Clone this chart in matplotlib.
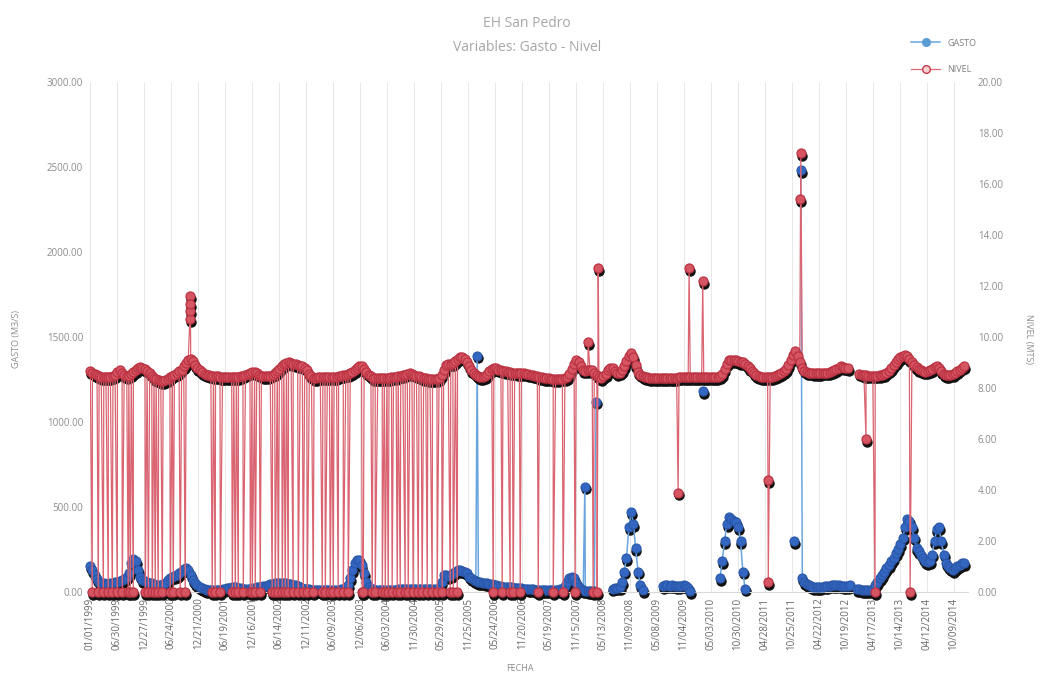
import numpy as np
import pandas as pd
import matplotlib
matplotlib.use('Agg')
import matplotlib.pyplot as plt
import matplotlib.transforms as mtransforms
from matplotlib.lines import Line2D

plt.rcParams['font.family'] = ['Open Sans', 'DejaVu Sans']

nan = np.nan
inicio = '1999-01-01'

# NIVEL (mts): lecturas quincenales (dias 1 y 15 de cada mes)
nivel_1999 = [8.65, 8.60, 8.55, 8.50, 8.46, 8.44, 8.43, 8.42, 8.42, 8.43, 8.45, 8.50, 8.62, 8.70, 8.60, 8.50, 8.45, 8.48, 8.55, 8.62, 8.70, 8.78, 8.82, 8.80]
nivel_2000 = [8.75, 8.68, 8.58, 8.48, 8.40, 8.35, 8.30, 8.28, 8.28, 8.30, 8.35, 8.42, 8.48, 8.52, 8.58, 8.65, 8.72, 8.85, 8.98, 9.10, 9.15, 9.05, 8.90, 8.78]
nivel_2001 = [8.70, 8.62, 8.56, 8.52, 8.50, 8.48, 8.46, 8.45, 8.45, 8.44, 8.44, 8.43, 8.43, 8.42, 8.42, 8.42, 8.42, 8.43, 8.45, 8.48, 8.52, 8.56, 8.60, 8.64]
nivel_2002 = [8.62, 8.58, 8.52, 8.48, 8.45, 8.45, 8.46, 8.48, 8.52, 8.58, 8.66, 8.75, 8.85, 8.92, 8.98, 9.00, 8.98, 8.95, 8.92, 8.90, 8.88, 8.85, 8.80, 8.70]
nivel_2003 = [8.55, 8.45, 8.40, 8.40, 8.42, 8.42, 8.42, 8.42, 8.42, 8.42, 8.42, 8.43, 8.44, 8.45, 8.48, 8.50, 8.52, 8.55, 8.58, 8.62, 8.70, 8.80, 8.88, 8.85]
nivel_2004 = [8.75, 8.62, 8.52, 8.45, 8.40, 8.40, 8.40, 8.40, 8.40, 8.40, 8.40, 8.40, 8.42, 8.42, 8.44, 8.46, 8.48, 8.50, 8.52, 8.56, 8.58, 8.56, 8.52, 8.48]
nivel_2005 = [8.45, 8.42, 8.40, 8.38, 8.36, 8.35, 8.35, 8.35, 8.36, 8.40, 8.50, 8.70, 8.90, 8.95, 8.95, 8.98, 9.05, 9.12, 9.20, 9.22, 9.15, 9.00, 8.85, 8.70]
nivel_2006 = [8.60, 8.52, 8.46, 8.43, 8.42, 8.45, 8.55, 8.65, 8.75, 8.80, 8.78, 8.72, 8.70, 8.68, 8.66, 8.64, 8.62, 8.60, 8.60, 8.58, 8.58, 8.58, 8.57, 8.56]
nivel_2007 = [8.55, 8.52, 8.50, 8.48, 8.46, 8.44, 8.42, 8.40, 8.39, 8.38, 8.37, 8.36, 8.36, 8.36, 8.37, 8.37, 8.38, 8.42, 8.55, 8.75, 8.95, 9.10, 9.00, 8.85]
nivel_2008 = [8.70, 8.68, 8.70, 8.72, 8.70, 8.60, 8.50, 8.42, 8.40, 8.45, 8.55, 8.70, 8.80, 8.78, 8.65, 8.58, 8.60, 8.70, 8.85, 9.05, 9.25, 9.38, 9.20, 8.90]
nivel_2009 = [8.62, 8.52, 8.46, 8.43, 8.41, 8.40, 8.40, 8.40, 8.39, 8.39, 8.40, 8.40, 8.40, 8.40, 8.39, 8.39, 8.40, 8.40, 8.41, 8.41, 8.42, 8.42, 8.42, 8.42]
nivel_2010 = [8.42, 8.42, 8.42, 8.42, 8.42, 8.42, 8.42, 8.42, 8.42, 8.42, 8.42, 8.42, 8.45, 8.55, 8.75, 8.95, 9.08, 9.10, 9.10, 9.08, 9.05, 9.02, 9.00, 8.95]
nivel_2011 = [8.88, 8.78, 8.68, 8.58, 8.50, 8.45, 8.42, 8.42, 8.42, 8.42, 8.42, 8.44, 8.46, 8.50, 8.54, 8.58, 8.65, 8.75, 8.90, 9.10, 9.30, 9.43, 9.25, 9.00]
nivel_2012 = [8.80, 8.68, 8.62, 8.60, 8.60, 8.58, 8.58, 8.58, 8.58, 8.60, 8.60, 8.60, 8.62, 8.65, 8.70, 8.75, 8.80, 8.85, 8.82, 8.80, 8.78, nan, nan, nan]
nivel_2013 = [nan, 8.56, 8.52, 8.50, 8.50, 8.48, 8.48, 8.48, 8.48, 8.48, 8.50, 8.52, 8.55, 8.60, 8.68, 8.78, 8.90, 9.02, 9.12, 9.20, 9.26, 9.30, 9.25, 9.12]
nivel_2014 = [9.00, 8.90, 8.82, 8.75, 8.70, 8.66, 8.64, 8.65, 8.70, 8.75, 8.82, 8.88, 8.80, 8.65, 8.55, 8.50, 8.50, 8.52, 8.55, 8.60, 8.66, 8.72, 8.80, 8.85]

# GASTO (m3/s): lecturas quincenales
gasto_1999 = [150, 130, 100, 75, 60, 55, 50, 45, 45, 50, 55, 60, 60, 65, 70, 75, 90, 110, 170, 195, 180, 130, 90, 70]
gasto_2000 = [65, 60, 55, 50, 45, 42, 40, 42, 45, 55, 70, 85, 90, 95, 100, 110, 125, 135, 140, 130, 100, 70, 50, 40]
gasto_2001 = [30, 22, 15, 12, 10, 10, 10, 10, 10, 12, 15, 18, 22, 25, 28, 30, 28, 25, 22, 20, 18, 18, 20, 22]
gasto_2002 = [25, 28, 30, 32, 35, 38, 40, 45, 48, 50, 52, 55, 55, 52, 50, 48, 45, 42, 40, 35, 30, 25, 20, 18]
gasto_2003 = [15, 12, 10, 10, 10, 10, 10, 10, 10, 10, 10, 10, 12, 12, 15, 15, 18, 40, 80, 130, 170, 190, 190, 160]
gasto_2004 = [110, 60, 30, 20, 15, 12, 10, 10, 10, 10, 10, 10, 10, 12, 12, 15, 15, 15, 18, 18, 20, 20, 20, 20]
gasto_2005 = [20, 20, 18, 18, 18, 18, 18, 18, 18, 18, 60, 100, 100, 95, 100, 110, 120, 130, 130, 125, 120, 110, 90, 80]
gasto_2006 = [70, 65, 60, 58, 55, 52, 50, 48, 45, 42, 40, 38, 35, 32, 30, 30, 28, 28, 25, 25, 22, 22, 20, 20]
gasto_2007 = [18, 15, 15, 12, 12, 10, 10, 10, 10, 10, 10, 10, 10, 12, 15, 20, 35, 60, 80, 90, 80, 55, 30, 15]
gasto_2008 = [10, 8, 5, 5, 5, 5, nan, nan, nan, nan, nan, nan, nan, 20, 25, 25, 30, 60, 120, 200, 380, 470, 400, 260]
gasto_2009 = [120, 40, 10, nan, nan, nan, nan, nan, nan, nan, nan, 35, 40, 40, 38, 40, 38, 35, 35, 38, 40, 35, 25, 5]
gasto_2010 = [nan, nan, nan, nan, nan, nan, nan, nan, nan, nan, nan, nan, 80, 180, 300, 400, 440, 430, 420, 410, 380, 300, 120, 20]
gasto_2011 = [nan, nan, nan, nan, nan, nan, nan, nan, nan, nan, nan, nan, nan, nan, nan, nan, nan, nan, nan, nan, nan, nan, nan, nan]
gasto_2012 = [80, 60, 45, 40, 35, 30, 30, 28, 30, 32, 35, 35, 38, 40, 40, 42, 40, 38, 36, 35, 35, 40, nan, nan]
gasto_2013 = [15, 15, 12, 12, 10, 10, 12, 20, 40, 60, 80, 100, 120, 140, 160, 180, 200, 230, 250, 280, 320, 380, 430, 420]
gasto_2014 = [380, 320, 260, 240, 220, 200, 180, 175, 180, 220, 300, 370, 380, 300, 220, 170, 150, 140, 130, 140, 150, 160, 170, 170]

# dias en que el NIVEL se registro en cero
nivel_cero = [
    '1999-01-14', '1999-02-23', '1999-03-29', '1999-05-01', '1999-05-28', '1999-06-30',
    '1999-08-02', '1999-09-11', '1999-09-25', '1999-10-15', '2000-01-03', '2000-01-23',
    '2000-02-18', '2000-03-09', '2000-03-29', '2000-04-25', '2000-06-17', '2000-07-07',
    '2000-08-23', '2000-09-25', '2001-03-24', '2001-04-13', '2001-05-17', '2001-08-05',
    '2001-08-25', '2001-09-14', '2001-10-17', '2001-12-03', '2001-12-16', '2002-01-05',
    '2002-02-07', '2002-04-28', '2002-05-18', '2002-06-07', '2002-07-04', '2002-07-24',
    '2002-08-13', '2002-09-15', '2002-10-19', '2002-11-21', '2002-12-18', '2003-01-27',
    '2003-03-28', '2003-04-17', '2003-05-20', '2003-06-09', '2003-07-12', '2003-08-15',
    '2003-09-17', '2003-12-19', '2003-12-26', '2004-02-24', '2004-03-15', '2004-05-01',
    '2004-05-21', '2004-06-10', '2004-07-06', '2004-08-09', '2004-08-29', '2004-10-01',
    '2004-10-21', '2004-11-23', '2004-12-27', '2005-01-22', '2005-02-25', '2005-03-30',
    '2005-05-02', '2005-06-05', '2005-07-28', '2005-08-17', '2005-09-13', '2006-05-11',
    '2006-07-10', '2006-09-01', '2006-09-21', '2006-11-07', '2007-03-07', '2007-06-15',
    '2007-08-20', '2007-11-08', '2008-03-07', '2008-04-03',
]

# lecturas aisladas fuera de la tendencia
picos_nivel_fecha = ['2000-10-26', '2000-10-27', '2000-10-28', '2000-10-29', '2008-02-03',
                     '2008-04-10', '2009-09-25', '2009-12-07', '2010-03-08', '2011-05-17',
                     '2011-05-19', '2011-12-20', '2011-12-22', '2013-03-01', '2013-04-30',
                     '2013-12-20']
picos_nivel_valor = [10.7, 11.0, 11.6, 11.3, 9.8, 12.7, 3.9, 12.7, 12.2, 4.4, 0.4, 15.4, 17.2,
                     6.0, 0.0, 0.0]
picos_gasto_fecha = ['2006-01-24', '2008-01-12', '2008-03-27', '2010-03-08', '2011-11-10',
                     '2011-12-22']
picos_gasto_valor = [1390, 620, 1120, 1180, 300, 2480]

anios = range(1999, 2015)
nivel_q = np.concatenate([globals()['nivel_%d' % a] for a in anios])
gasto_q = np.concatenate([globals()['gasto_%d' % a] for a in anios])
fechas_q = pd.date_range(inicio, periods=len(nivel_q), freq='SMS')

nivel = pd.concat([
    pd.Series(nivel_q, index=fechas_q),
    pd.Series(0.0, index=pd.to_datetime(nivel_cero)),
    pd.Series(picos_nivel_valor, index=pd.to_datetime(picos_nivel_fecha)),
]).sort_index()
gasto = pd.concat([
    pd.Series(gasto_q, index=fechas_q),
    pd.Series(picos_gasto_valor, index=pd.to_datetime(picos_gasto_fecha), dtype=float),
]).sort_index()

fig = plt.figure(figsize=(10.44, 6.77), dpi=100)
ax = fig.add_axes([0.0862, 0.1256, 0.841, 0.7534])
ax2 = ax.twinx()

sombra = mtransforms.ScaledTranslation(0.6 / 72, -2.0 / 72, fig.dpi_scale_trans)
ms = 6.5

# GASTO en el eje izquierdo
ax.plot(gasto.index, gasto.values, 'o', ls='none', ms=ms, color='#111111',
        transform=ax.transData + sombra, zorder=2, clip_on=False)
ax.plot(gasto.index, gasto.values, '-', color='#6aa5e0', lw=1.1, zorder=3)
ax.plot(gasto.index, gasto.values, 'o', ls='none', ms=ms, mfc='#3467c2',
        mec='#2a57a8', mew=0.8, zorder=4, clip_on=False)

# NIVEL en el eje derecho
ax2.plot(nivel.index, nivel.values, 'o', ls='none', ms=ms, color='#111111',
         transform=ax2.transData + sombra, zorder=2, clip_on=False)
ax2.plot(nivel.index, nivel.values, '-', color='#da6471', lw=0.9, zorder=3)
ax2.plot(nivel.index, nivel.values, 'o', ls='none', ms=ms, mfc='#d65563',
         mec='#bb3343', mew=0.9, zorder=4, clip_on=False)

ax.set_ylim(0, 3000)
ax2.set_ylim(0, 20)
ax.set_yticks(np.arange(0, 3001, 500))
ax2.set_yticks(np.arange(0, 21, 2))
ax.set_yticklabels(['%.2f' % v for v in np.arange(0, 3001, 500)])
ax2.set_yticklabels(['%.2f' % v for v in np.arange(0, 21, 2)])

ticks = pd.date_range(inicio, periods=33, freq='180D')
ax.set_xticks(ticks)
ax.set_xticklabels([t.strftime('%m/%d/%Y') for t in ticks], rotation=90)
ax.set_xlim(pd.Timestamp('1998-12-30'), pd.Timestamp('2015-01-10'))

ax.grid(axis='x', color='#e4e4e4', lw=0.6)
ax.set_axisbelow(True)
for a in (ax, ax2):
    for s in a.spines.values():
        s.set_visible(False)
ax.spines['bottom'].set_visible(True)
ax.spines['bottom'].set_color('#d9d9d9')

ax.tick_params(axis='y', length=0, pad=5, labelsize=7, labelcolor='#8c8c8c')
ax2.tick_params(axis='y', length=0, pad=7, labelsize=7, labelcolor='#8c8c8c')
ax.tick_params(axis='x', length=0, pad=4, labelsize=7, labelcolor='#666666')

fig.text(0.505, 0.965, 'EH San Pedro', ha='center', va='center', fontsize=10, color='#a6a6a6')
fig.text(0.505, 0.93, 'Variables: Gasto - Nivel', ha='center', va='center', fontsize=10, color='#a6a6a6')
fig.text(0.016, 0.5, 'GASTO (M3/S)', rotation=90, ha='center', va='center', fontsize=6.5, color='#8c8c8c')
fig.text(0.985, 0.5, 'NIVEL (MTS)', rotation=270, ha='center', va='center', fontsize=6.5, color='#8c8c8c')
fig.text(0.498, 0.013, 'FECHA', ha='center', va='center', fontsize=6.5, color='#8c8c8c')

entradas = [
    Line2D([], [], color='#6aa5e0', lw=1.1, marker='o', ms=5.5, mfc='#5b9bd5', mec='#5b9bd5'),
    Line2D([], [], color='#dc6b77', lw=0.9, marker='o', ms=5.5, mfc='#f6d0d4', mec='#c43a48'),
]
fig.legend(entradas, ['GASTO', 'NIVEL'], loc='upper right', bbox_to_anchor=(0.943, 0.955),
           frameon=False, fontsize=6.5, labelcolor='#7f7f7f', handlelength=3.2,
           labelspacing=1.9)

fig.savefig('out.png', dpi=100)
